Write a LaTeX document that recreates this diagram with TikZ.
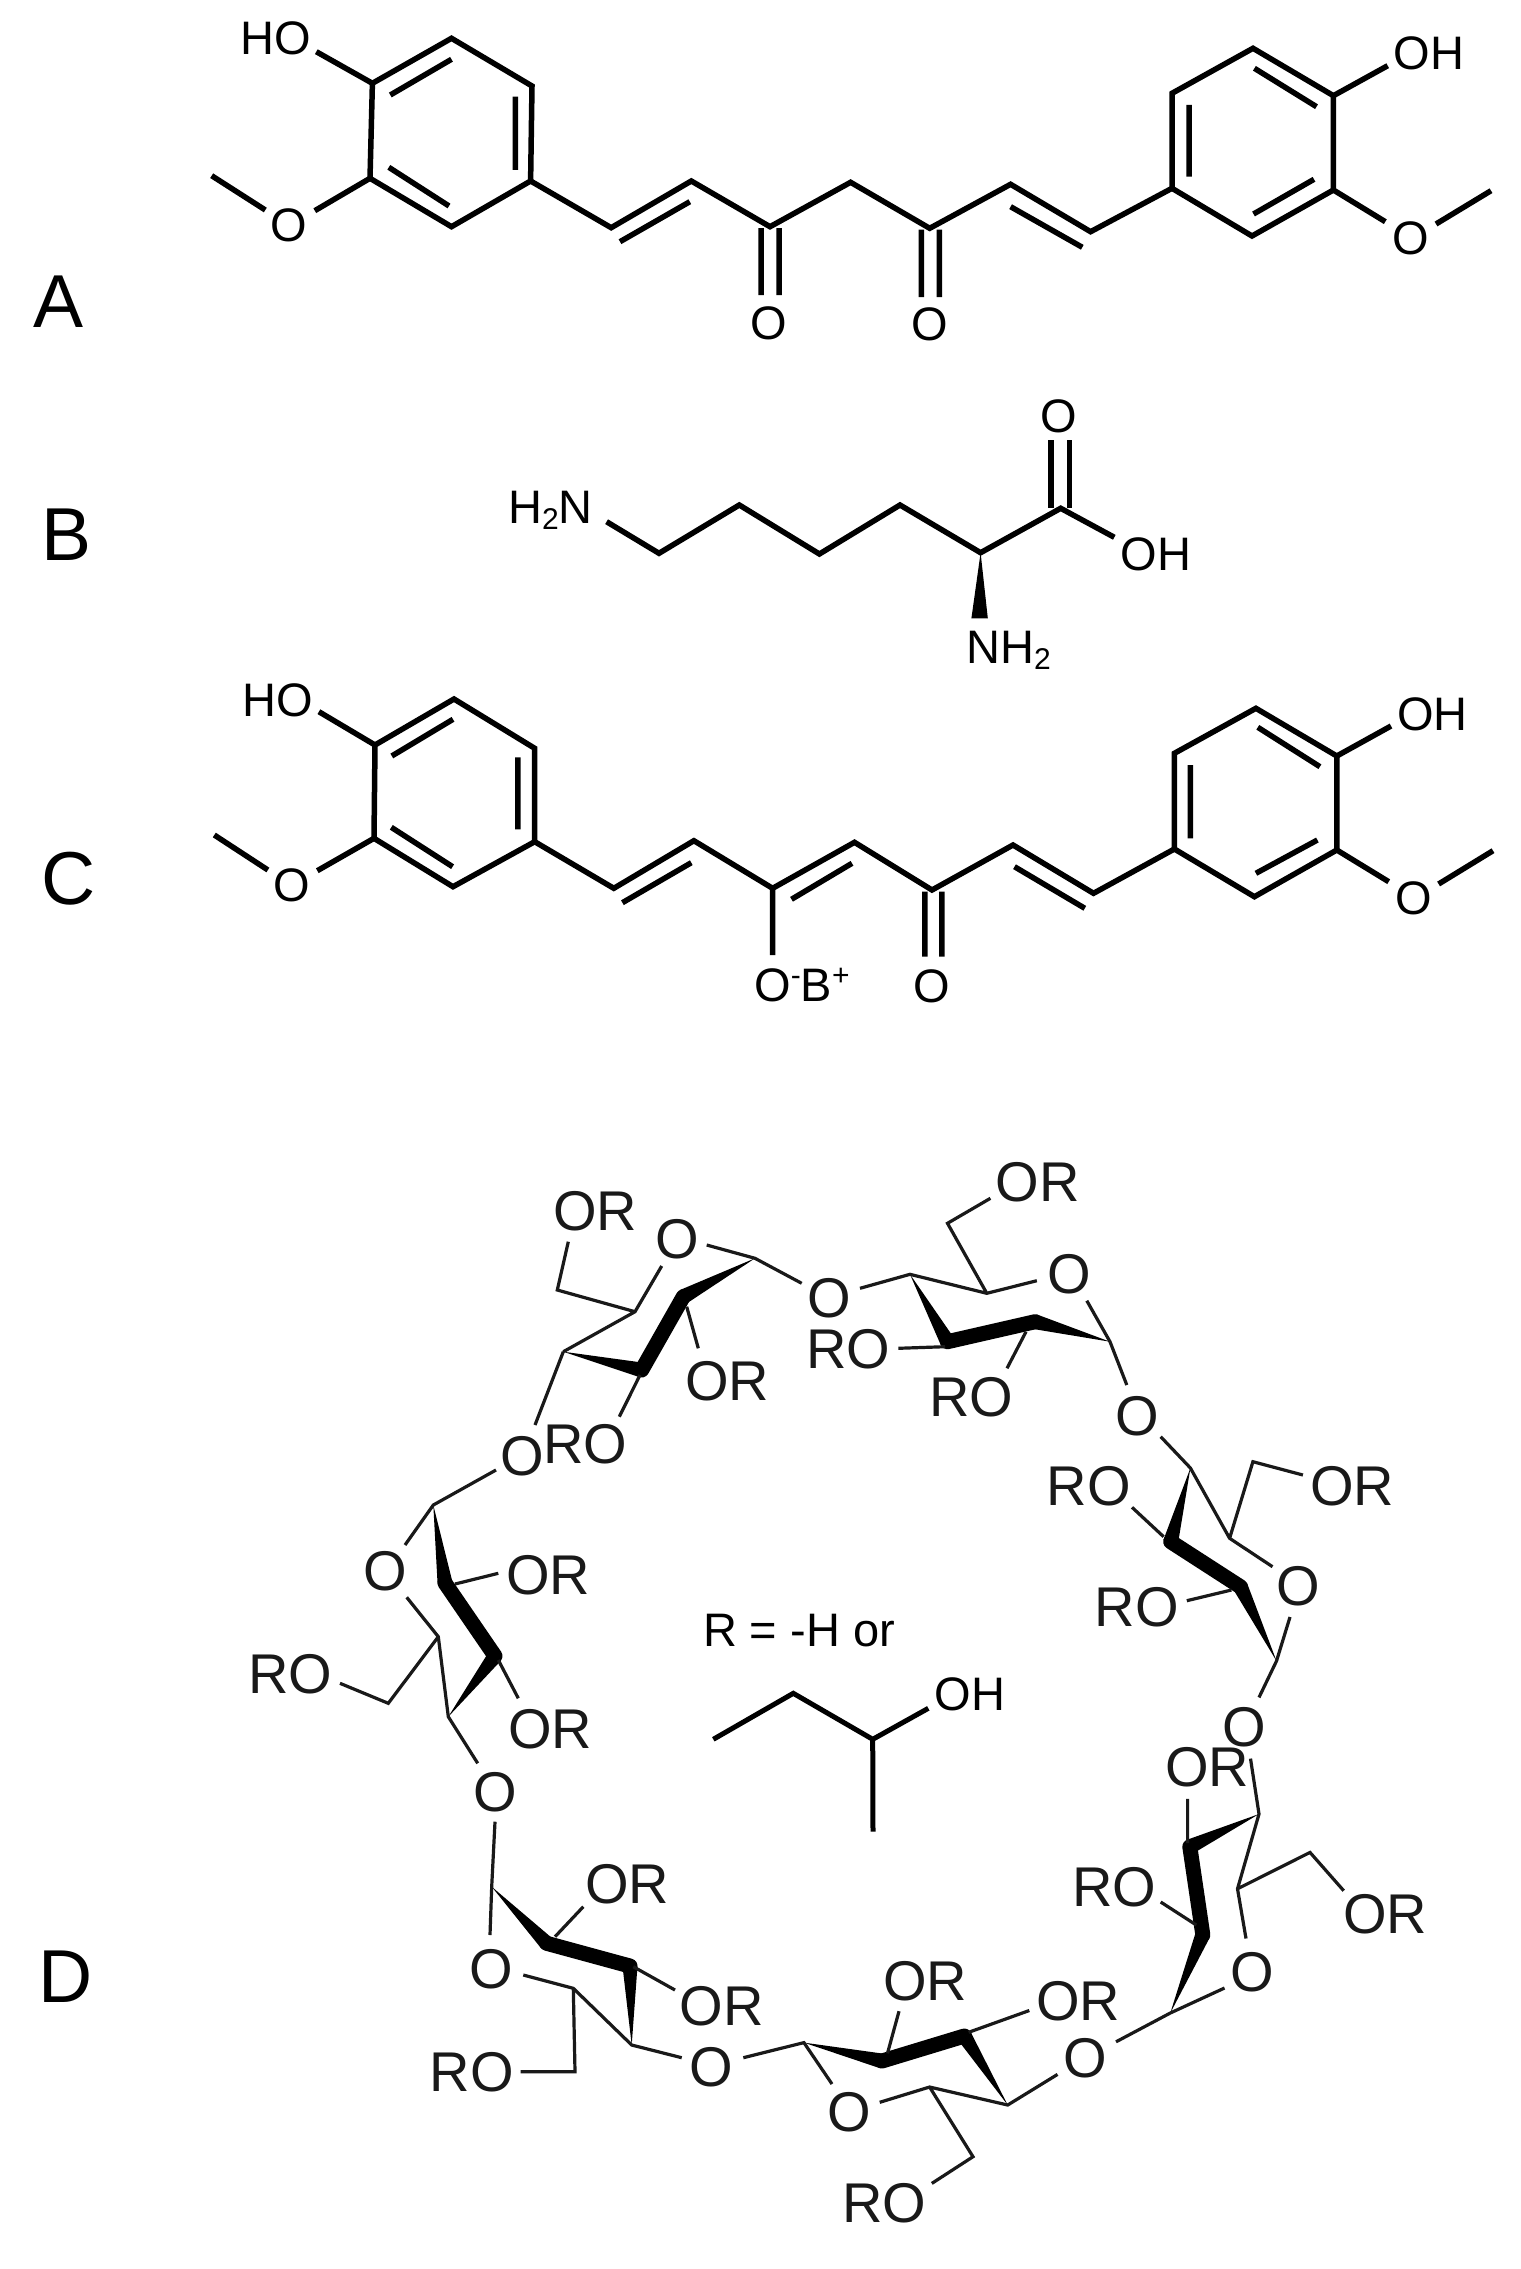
\documentclass[tikz,border=0pt]{standalone}
\usepackage{fontspec}
\setmainfont{Liberation Sans}
\usetikzlibrary{calc}
\newcommand{\subtwo}{\raisebox{-6pt}{\fontsize{30}{31}\selectfont 2}}
\newcommand{\supsign}[1]{\raisebox{16pt}{\fontsize{30}{31}\selectfont #1}}
\newcommand{\wdg}[2]{\fill[black] (#1) -- ($(#2)!7.5pt!90:(#1)$) -- ($(#2)!7.5pt!-90:(#1)$) -- cycle;}
\newcommand{\pts}[1]{\foreach \n/\x/\y in {#1} \coordinate (\n) at (\x,\y);}
\tikzset{
  bigbond/.style={line width=5.5pt,line join=miter,black},
  midbond/.style={line width=5pt,line join=miter,black},
  thinbond/.style={line width=3.2pt,line join=miter,black!90},
  band/.style={line width=15pt,line cap=round,black},
  atomS/.style={inner sep=0pt,anchor=base,yshift=-17pt,font=\fontsize{47}{50}\selectfont,black},
  atomD/.style={inner sep=0pt,anchor=base,yshift=-20pt,font=\fontsize{56}{60}\selectfont,black!90},
  panel/.style={inner sep=0pt,anchor=base,yshift=-27pt,font=\fontsize{75}{80}\selectfont,black}
}
\begin{document}
\begin{tikzpicture}[x=1pt,y=-1pt]
\useasboundingbox (0,0) rectangle (1520,2269);
\fill[white] (0,0) rectangle (1520,2269);
% panel letters
\node[panel] (lA) at (58.7,300) {A};
\node[panel] (lB) at (67,533) {B};
\node[panel] (lC) at (69,877) {C};
\node[panel] (lD) at (65.4,1975) {D};
% ---------- molecule A
\pts{Ar1/372.4/83.3,Ar2/451.5/38.3,Ar3/532/86,Ar4/530.6/181,Ar5/451.5/226.7,Ar6/370/178.3,
Ah/316.3/51.7,Ao/314.8/210.7,Am1/265.3/210,Am2/211.7/175.7,
Ai1/390.3/95,Ai2/451.5/59.3,Ai3/515.3/96.7,Ai4/515.3/170,Ai5/388.8/167.3,Ai6/449/206,
Ac1/611.2/227.7,Ac2/691.3/181,Ac3/770/226.7,Ac4/850.6/182.3,Ac5/929.7/228.3,Ac6/1010.6/184.3,Ac7/1090.6/231.7,
Aj1/620/241.7,Aj2/689.8/201.7,Aj3/1010.6/206.7,Aj4/1082.3/247.3,
Ad1/761.2/228,Ad2/761.2/295,Ad3/779/228,Ad4/779/295,Ad5/921.4/229.5,Ad6/921.4/297,Ad7/939.4/229.5,Ad8/939.4/297,
Aq1/1333.4/95.7,Aq2/1253/48.3,Aq3/1172/93.3,Aq4/1172/188.3,Aq5/1252/236,Aq6/1333.4/190,
Ak1/1189/105,Ak2/1189/176.7,Ak3/1254.4/68.3,Ak4/1316.5/106.7,Ak5/1314/179.3,Ak6/1253.5/214,
Ap/1387.7/65.7,Aw/1385.3/221.7,An1/1436/224,An2/1491/190.7}
\draw[bigbond] (Ar1)--(Ar2)--(Ar3)--(Ar4)--(Ar5)--(Ar6)--cycle;
\draw[bigbond] (Ai1)--(Ai2) (Ai3)--(Ai4) (Ai5)--(Ai6);
\draw[bigbond] (Ar1)--(Ah) (Ar6)--(Ao) (Am1)--(Am2);
\draw[bigbond] (Ar4)--(Ac1)--(Ac2)--(Ac3)--(Ac4)--(Ac5)--(Ac6)--(Ac7)--(Aq4);
\draw[bigbond] (Aj1)--(Aj2) (Aj3)--(Aj4) (Ad1)--(Ad2) (Ad3)--(Ad4) (Ad5)--(Ad6) (Ad7)--(Ad8);
\draw[bigbond] (Aq1)--(Aq2)--(Aq3)--(Aq4)--(Aq5)--(Aq6)--cycle;
\draw[bigbond] (Ak1)--(Ak2) (Ak3)--(Ak4) (Ak5)--(Ak6);
\draw[bigbond] (Aq1)--(Ap) (Aq6)--(Aw) (An1)--(An2);
\node[atomS] (AHO) at (275.5,38) {HO};
\node[atomS] (AO1) at (289,224) {O};
\node[atomS] (AO2) at (769,322.7) {O};
\node[atomS] (AO3) at (929.7,323.3) {O};
\node[atomS] (AOH) at (1429,52.7) {OH};
\node[atomS] (AO4) at (1410.5,237.3) {O};
% ---------- molecule B
\pts{Bn/606.6/521.7,B1/659/553.3,B2/739.3/505,B3/819.4/554,B4/900/505,B5/980.6/552.7,B6/1060.7/508.3,
Bd1/1051/440,Bd2/1051/508,Bd3/1069.4/440,Bd4/1069.4/508,Bh/1114.3/537.3,
Bw1/971.4/618.3,Bw2/987.8/618.3}
\draw[bigbond] (Bn)--(B1)--(B2)--(B3)--(B4)--(B5)--(B6)--(Bh);
\draw[bigbond] (Bd1)--(Bd2) (Bd3)--(Bd4);
\fill[black] (B5)--(Bw1)--(Bw2)--cycle;
\node[atomS,anchor=base east] (BH2N) at (593,506.7) {H\subtwo N};
\node[atomS] (BO) at (1059,415) {O};
\node[atomS] (BOH) at (1156,553.3) {OH};
\node[atomS,anchor=base west] (BNH2) at (966,646.7) {NH\subtwo};
% ---------- molecule C
\pts{Cr1/375/745,Cr2/454/699,Cr3/534.7/748.3,Cr4/534.7/841.7,Cr5/453/886.7,Cr6/374/838.3,
Ch/318.9/711.7,Co/317.3/870.7,Cm1/267.9/870,Cm2/214.3/835,
Ci1/391.8/756,Ci2/453/719.3,Ci3/517.9/757.3,Ci4/517.9/829.3,Ci5/391.3/827.3,Ci6/452.6/866.7,
Cc1/613.8/888.3,Cc2/693.9/840.7,Cc3/772.6/888.3,Cc4/854.5/842.3,Cc5/932/890,Cc6/1013/845,Cc7/1093.5/893.3,
Cj1/622.4/902.7,Cj2/691.3/862.7,Cj3/791.5/899.3,Cj4/852/863.3,Cj5/1014.5/866.7,Cj6/1084.8/908.3,
Cb/772.6/955,Cd1/924.8/891.7,Cd2/924.8/956.7,Cd3/941.8/891.7,Cd4/941.8/956.7,
Cq1/1336.8/756,Cq2/1255.9/708.3,Cq3/1174.4/753.3,Cq4/1174.4/849,Cq5/1254.4/896.7,Cq6/1336.8/850,
Ck1/1190.4/765,Ck2/1190.4/838.3,Ck3/1257.8/727.3,Ck4/1319.9/766.7,Ck5/1317.4/840,Ck6/1255.9/873.3,
Cp/1391/726,Cw/1388.7/881.7,Cn1/1438.6/884,Cn2/1493/850.7}
\draw[bigbond] (Cr1)--(Cr2)--(Cr3)--(Cr4)--(Cr5)--(Cr6)--cycle;
\draw[bigbond] (Ci1)--(Ci2) (Ci3)--(Ci4) (Ci5)--(Ci6);
\draw[bigbond] (Cr1)--(Ch) (Cr6)--(Co) (Cm1)--(Cm2);
\draw[bigbond] (Cr4)--(Cc1)--(Cc2)--(Cc3)--(Cc4)--(Cc5)--(Cc6)--(Cc7)--(Cq4);
\draw[bigbond] (Cj1)--(Cj2) (Cj3)--(Cj4) (Cj5)--(Cj6) (Cc3)--(Cb) (Cd1)--(Cd2) (Cd3)--(Cd4);
\draw[bigbond] (Cq1)--(Cq2)--(Cq3)--(Cq4)--(Cq5)--(Cq6)--cycle;
\draw[bigbond] (Ck1)--(Ck2) (Ck3)--(Ck4) (Ck5)--(Ck6);
\draw[bigbond] (Cq1)--(Cp) (Cq6)--(Cw) (Cn1)--(Cn2);
\node[atomS] (CHO) at (278,699) {HO};
\node[atomS] (CO1) at (291.8,884) {O};
\node[atomS,anchor=base west] (COB) at (754,984) {O\supsign{-}B\supsign{+}};
\node[atomS] (CO3) at (932,985) {O};
\node[atomS] (COH) at (1432.3,713) {OH};
\node[atomS] (CO4) at (1413.4,897.3) {O};
% ---------- R group
\pts{Ra/713.3/1739.3,Rb/793.3/1693.3,Rc/872.7/1739.3,Rd/928.3/1708.3,Re/873/1831.7}
\draw[midbond] (Ra)--(Rb)--(Rc)--(Rd) (Rc)--(Re);
\node[atomS] (Rtxt) at (799,1629) {R = -H or};
\node[atomS] (ROH) at (970,1693.3) {OH};
% ---------- cyclodextrin
\pts{a1/563.3/1351.7,a2/641.7/1370,a3/683.3/1296.7,a4/755/1258.3,a5/635/1311.7,
a6/706.7/1245,a7/661.7/1266,a8/557.3/1290,a9/568.3/1241.7,
a10/686.7/1306.7,a11/698.3/1348.3,a12/640/1375,a13/619.3/1416.7,a14/535/1425,a15/801.7/1283.3,
b0/860/1288.3,b1/910/1274.3,b2/947.5/1341.7,b3/1035/1321.7,b4/1110/1341.7,b5/986.8/1293.3,b6/1036.8/1280.7,
b7/1086.8/1300.7,b8/947.5/1223.3,b9/990.4/1198.3,b10/898.3/1348.3,b11/945/1346.7,b12/1007/1368.3,b13/1026/1331.7,b14/1126.8/1385,
c0/1160.7/1436.7,c1/1190.4/1468,c2/1170.7/1541.7,c3/1240.4/1586.7,c4/1276.5/1661,c5/1229.6/1538.3,c6/1272.5/1566.7,
c7/1290/1617,c8/1252.9/1461.7,c9/1302.9/1475,c10/1132/1507.3,c11/1163.6/1536.7,c12/1186.8/1600.7,c13/1231.4/1590,c14/1259/1697.4,
d0/1250.5/1758.6,d1/1259/1814,d2/1189.8/1846.7,d3/1202.8/1934.7,d4/1170.3/2013,d5/1237.5/1888.8,d6/1246/1938.5,
d7/1224.5/1988,d8/1310/1852.4,d9/1343.7/1890.7,d10/1187.6/1798.8,d11/1187.6/1843,d12/1160.7/1902,d13/1196.3/1925,d14/1116/2041.8,
e0/1057.5/2074.4,e1/1007.7/2105,e2/964.3/2036,e3/882/2061,e4/803.9/2042.6,e5/929.6/2087,e6/879.7/2102.3,
e7/832/2084,e8/973/2156.7,e9/931.8/2183.4,e10/899/2011.2,e11/887.5/2053.3,e12/1029.3/2010.5,e13/968.6/2032.3,e14/743.3/2057.7,
f0/681.7/2057.7,f1/631.7/2045,f2/630/1966,f3/546.7/1943.3,f4/491.7/1886.7,f5/573.3/1988.3,f6/523.3/1975,
f7/490/1935,f8/575/2071.7,f9/520.7/2071.7,f10/555/1936.7,f11/583.3/1906.7,f12/633.3/1966.7,f13/675/1990,f14/495/1821.7,
g0/477.7/1763.3,g1/448.3/1716.7,g2/495/1656,g3/445/1583,g4/433.3/1505,g5/438.3/1636.7,g6/405/1545,
g7/406.7/1597.3,g8/388.3/1703.3,g9/340/1683.3,g10/455/1584,g11/498.3/1573.3,g12/498.3/1660,g13/518.3/1698.3,g14/496/1470}
% ring 1
\wdg{a1}{a2}\draw[band] (a2)--(a3);\wdg{a4}{a3}
\draw[thinbond] (a1)--(a5)--(a7) (a6)--(a4)--(a15) (a9)--(a8)--(a5) (a10)--(a11) (a12)--(a13) (a1)--(a14);
% ring 2
\wdg{b1}{b2}\draw[band] (b2)--(b3);\wdg{b4}{b3}
\draw[thinbond] (b0)--(b1)--(b5)--(b6) (b7)--(b4)--(b14) (b5)--(b8)--(b9) (b10)--(b11) (b12)--(b13);
% ring 3
\wdg{c1}{c2}\draw[band] (c2)--(c3);\wdg{c4}{c3}
\draw[thinbond] (c0)--(c1)--(c5)--(c6) (c7)--(c4)--(c14) (c5)--(c8)--(c9) (c10)--(c11) (c12)--(c13);
% ring 4
\wdg{d1}{d2}\draw[band] (d2)--(d3);\wdg{d4}{d3}
\draw[thinbond] (d0)--(d1)--(d5)--(d6) (d7)--(d4)--(d14) (d5)--(d8)--(d9) (d10)--(d11) (d12)--(d13);
% ring 5
\wdg{e1}{e2}\draw[band] (e2)--(e3);\wdg{e4}{e3}
\draw[thinbond] (e0)--(e1)--(e5)--(e6) (e7)--(e4)--(e14) (e5)--(e8)--(e9) (e10)--(e11) (e12)--(e13);
% ring 6
\wdg{f1}{f2}\draw[band] (f2)--(f3);\wdg{f4}{f3}
\draw[thinbond] (f0)--(f1)--(f5)--(f6) (f7)--(f4)--(f14) (f5)--(f8)--(f9) (f10)--(f11) (f12)--(f13);
% ring 7
\wdg{g1}{g2}\draw[band] (g2)--(g3);\wdg{g4}{g3}
\draw[thinbond] (g0)--(g1)--(g5)--(g7) (g6)--(g4)--(g14) (g5)--(g8)--(g9) (g10)--(g11) (g12)--(g13);
% labels ring 1
\node[atomD] (t1) at (595,1210) {OR};
\node[atomD] (t2) at (677.3,1238.3) {O};
\node[atomD] (t3) at (727.3,1380) {OR};
\node[atomD] (t4) at (585,1443.3) {RO};
\node[atomD] (t5) at (522.3,1455) {O};
\node[atomD] (t6) at (829,1297.7) {O};
% ring 2
\node[atomD] (t7) at (1069,1273.3) {O};
\node[atomD] (t8) at (1037.5,1181.7) {OR};
\node[atomD] (t9) at (848.3,1348.3) {RO};
\node[atomD] (t10) at (971.4,1396.7) {RO};
\node[atomD] (t11) at (1136.8,1415) {O};
% ring 3
\node[atomD] (t12) at (1298.6,1585) {O};
\node[atomD] (t13) at (1352,1485) {OR};
\node[atomD] (t14) at (1088.6,1485) {RO};
\node[atomD] (t15) at (1136.8,1606.7) {RO};
\node[atomD] (t16) at (1244,1726) {O};
% ring 4
\node[atomD] (t17) at (1251.8,1971) {O};
\node[atomD] (t18) at (1385,1913.6) {OR};
\node[atomD] (t19) at (1207,1766.3) {OR};
\node[atomD] (t20) at (1114,1886.8) {RO};
\node[atomD] (t21) at (1084.9,2057) {O};
% ring 5
\node[atomD] (t22) at (849.4,2111.5) {O};
\node[atomD] (t23) at (884,2202.6) {RO};
\node[atomD] (t24) at (925.3,1980.6) {OR};
\node[atomD] (t25) at (1078.3,2000) {OR};
\node[atomD] (t26) at (711.7,2066) {O};
% ring 6
\node[atomD] (t27) at (491.7,1968.3) {O};
\node[atomD] (t28) at (471.7,2071.7) {RO};
\node[atomD] (t29) at (627.3,1883.3) {OR};
\node[atomD] (t30) at (721.7,2005) {OR};
\node[atomD] (t31) at (495,1791.7) {O};
% ring 7
\node[atomD] (t32) at (385,1570.7) {O};
\node[atomD] (t33) at (290,1673.3) {RO};
\node[atomD] (t34) at (548.3,1574) {OR};
\node[atomD] (t35) at (550,1728.3) {OR};
\end{tikzpicture}
\end{document}
